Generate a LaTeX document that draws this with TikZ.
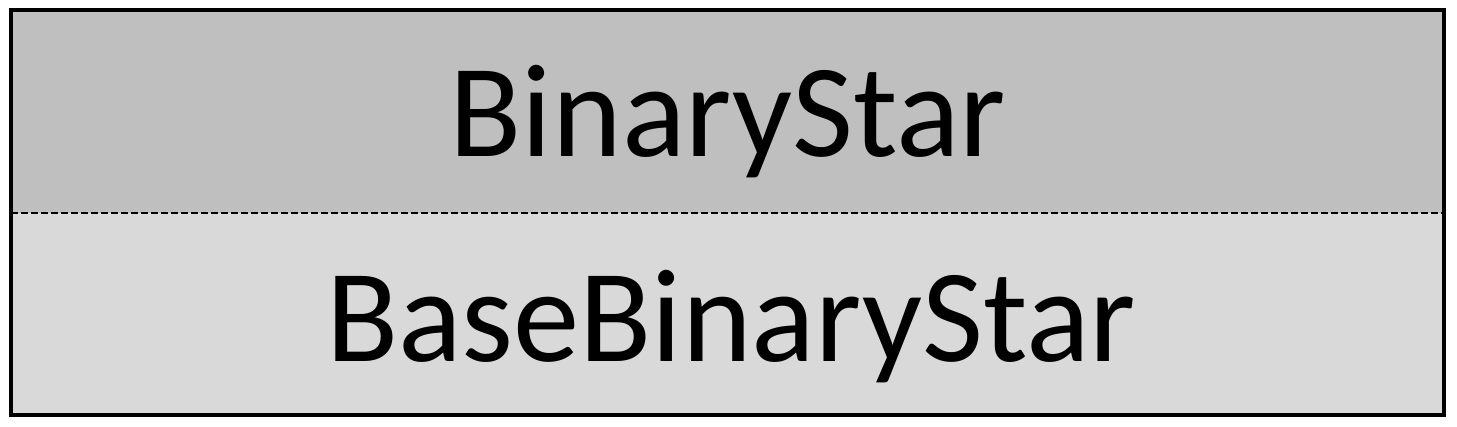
\documentclass[tikz,border=0pt]{standalone}
\usepackage{fontspec}
\setmainfont{Carlito}
\definecolor{topgray}{HTML}{BFBFBF}
\definecolor{botgray}{HTML}{D9D9D9}
\begin{document}
\begin{tikzpicture}[x=0.75pt,y=-0.75pt,
  label/.style={anchor=base,inner sep=0pt,font=\fontsize{99.5pt}{112pt}\selectfont}]
\useasboundingbox (0,0) rectangle (1457,427);
\fill[topgray] (11,10) rectangle (1444,213);
\fill[botgray] (11,213) rectangle (1444,415);
\draw[line width=1.1pt,dash pattern=on 5.2pt off 2.3pt] (11,213) -- (1444,213);
\draw[line width=3pt] (11,10) rectangle (1444,415);
\node[label] (top) at (728,157) {BinaryStar};
\node[label] (bot) at (731,362) {BaseBinaryStar};
\end{tikzpicture}
\end{document}
